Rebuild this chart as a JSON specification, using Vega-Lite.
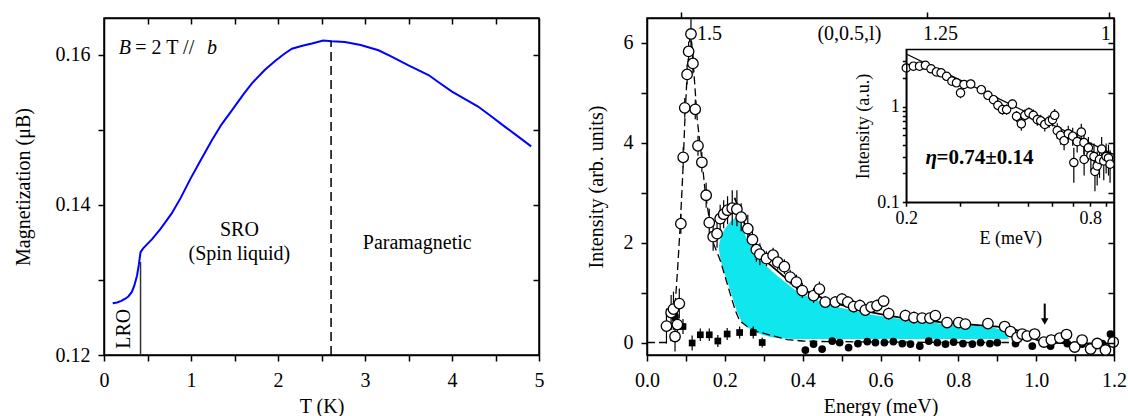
{
  "$schema": "https://vega.github.io/schema/vega-lite/v6.json",
  "background": "white",
  "padding": {"left": 12, "top": 10, "right": 4, "bottom": 0},
  "spacing": 40,
  "config": {
    "font": "Liberation Serif",
    "view": {"stroke": "black", "strokeWidth": 1.5},
    "axis": {"domainColor": "black", "tickColor": "black", "labelColor": "black", "titleColor": "black", "labelFontSize": 20, "titleFontSize": 20, "titleFontWeight": "normal", "tickSize": 6, "grid": false, "labelFont": "Liberation Serif", "titleFont": "Liberation Serif", "domainWidth": 1.5, "tickWidth": 1.5, "labelFlush": false, "labelOverlap": false},
    "text": {"font": "Liberation Serif", "fontSize": 20, "color": "black"}
  },
  "datasets": {
    "mag": [
      {"T": 0.10, "M": 0.1269}, {"T": 0.15, "M": 0.1270}, {"T": 0.20, "M": 0.1272}, {"T": 0.245, "M": 0.1275}, {"T": 0.28, "M": 0.1278}, {"T": 0.32, "M": 0.1284}, {"T": 0.35, "M": 0.1293}, {"T": 0.38, "M": 0.1306}, {"T": 0.40, "M": 0.1320}, {"T": 0.42, "M": 0.1337}, {"T": 0.45, "M": 0.1342}, {"T": 0.55, "M": 0.1354}, {"T": 0.65, "M": 0.1368}, {"T": 0.78, "M": 0.1389}, {"T": 0.88, "M": 0.1409}, {"T": 0.99, "M": 0.1434}, {"T": 1.1, "M": 0.1457}, {"T": 1.24, "M": 0.1486}, {"T": 1.35, "M": 0.1507}, {"T": 1.47, "M": 0.1526}, {"T": 1.6, "M": 0.1547}, {"T": 1.70, "M": 0.1562}, {"T": 1.85, "M": 0.1580}, {"T": 1.97, "M": 0.1592}, {"T": 2.07, "M": 0.1601}, {"T": 2.16, "M": 0.1608}, {"T": 2.28, "M": 0.1612}, {"T": 2.39, "M": 0.1615}, {"T": 2.52, "M": 0.1619}, {"T": 2.62, "M": 0.1618}, {"T": 2.77, "M": 0.1617}, {"T": 2.95, "M": 0.1613}, {"T": 3.155, "M": 0.1606}, {"T": 3.3, "M": 0.1598}, {"T": 3.5, "M": 0.1586}, {"T": 3.73, "M": 0.1573}, {"T": 3.85, "M": 0.1563}, {"T": 4.0, "M": 0.1551}, {"T": 4.15, "M": 0.1541}, {"T": 4.30, "M": 0.1531}, {"T": 4.45, "M": 0.1518}, {"T": 4.61, "M": 0.1504}, {"T": 4.75, "M": 0.1492}, {"T": 4.91, "M": 0.1478}
    ],
    "cyan": [
      {"E": 0.185, "lo": 1.85, "hi": 1.95}, {"E": 0.19, "lo": 1.62, "hi": 2.12}, {"E": 0.20, "lo": 1.36, "hi": 2.28}, {"E": 0.214, "lo": 1.04, "hi": 2.42}, {"E": 0.23, "lo": 0.64, "hi": 2.52}, {"E": 0.244, "lo": 0.40, "hi": 2.32}, {"E": 0.257, "lo": 0.31, "hi": 2.08}, {"E": 0.275, "lo": 0.22, "hi": 1.85}, {"E": 0.291, "lo": 0.17, "hi": 1.65}, {"E": 0.317, "lo": 0.11, "hi": 1.46}, {"E": 0.334, "lo": 0.09, "hi": 1.34}, {"E": 0.377, "lo": 0.07, "hi": 1.07}, {"E": 0.40, "lo": 0.07, "hi": 0.97}, {"E": 0.42, "lo": 0.07, "hi": 0.89}, {"E": 0.463, "lo": 0.07, "hi": 0.77}, {"E": 0.489, "lo": 0.07, "hi": 0.71}, {"E": 0.548, "lo": 0.07, "hi": 0.61}, {"E": 0.574, "lo": 0.07, "hi": 0.56}, {"E": 0.66, "lo": 0.07, "hi": 0.46}, {"E": 0.754, "lo": 0.07, "hi": 0.38}, {"E": 0.814, "lo": 0.07, "hi": 0.35}, {"E": 0.883, "lo": 0.07, "hi": 0.31}, {"E": 0.913, "lo": 0.07, "hi": 0.25}, {"E": 0.926, "lo": 0.07, "hi": 0.13}, {"E": 0.93, "lo": 0.07, "hi": 0.08}
    ],
    "dash": [
      {"E": 0.0, "I": 0}, {"E": 0.055, "I": 0}, {"E": 0.064, "I": 0.05}, {"E": 0.068, "I": 0.3}, {"E": 0.073, "I": 0.84}, {"E": 0.079, "I": 1.51}, {"E": 0.085, "I": 2.3}, {"E": 0.090, "I": 3.06}, {"E": 0.0926, "I": 3.5}, {"E": 0.097, "I": 4.4}, {"E": 0.102, "I": 5.2}, {"E": 0.107, "I": 5.8}, {"E": 0.111, "I": 6.15}, {"E": 0.115, "I": 6.0}, {"E": 0.120, "I": 5.47}, {"E": 0.129, "I": 4.47}, {"E": 0.141, "I": 3.66}, {"E": 0.150, "I": 2.99}, {"E": 0.163, "I": 2.32}, {"E": 0.171, "I": 1.98}, {"E": 0.188, "I": 1.65}, {"E": 0.201, "I": 1.31}, {"E": 0.214, "I": 0.97}, {"E": 0.227, "I": 0.64}, {"E": 0.238, "I": 0.44}, {"E": 0.257, "I": 0.32}, {"E": 0.283, "I": 0.22}, {"E": 0.326, "I": 0.13}, {"E": 0.36, "I": 0.06}, {"E": 0.40, "I": 0.03}, {"E": 0.45, "I": 0.02}, {"E": 0.6, "I": 0.01}, {"E": 0.8, "I": 0.0}, {"E": 0.93, "I": 0.0}
    ],
    "fit": [
      {"E": 0.225, "I": 2.9}, {"E": 0.24, "I": 2.6}, {"E": 0.257, "I": 2.25}, {"E": 0.275, "I": 2.0}, {"E": 0.291, "I": 1.78}, {"E": 0.31, "I": 1.6}, {"E": 0.334, "I": 1.44}, {"E": 0.355, "I": 1.3}, {"E": 0.377, "I": 1.18}, {"E": 0.40, "I": 1.06}, {"E": 0.428, "I": 0.97}, {"E": 0.46, "I": 0.86}, {"E": 0.49, "I": 0.77}, {"E": 0.548, "I": 0.67}, {"E": 0.574, "I": 0.61}, {"E": 0.62, "I": 0.54}, {"E": 0.66, "I": 0.49}, {"E": 0.72, "I": 0.44}, {"E": 0.754, "I": 0.41}, {"E": 0.8, "I": 0.38}, {"E": 0.85, "I": 0.35}, {"E": 0.9, "I": 0.32}, {"E": 0.943, "I": 0.27}, {"E": 0.965, "I": 0.2}, {"E": 0.986, "I": 0.10}, {"E": 1.01, "I": 0.03}, {"E": 1.03, "I": 0.0}, {"E": 1.1, "I": -0.02}, {"E": 1.2, "I": -0.02}
    ],
    "open": [
      {"E": 0.050, "I": 0.33, "lo": -0.02, "hi": 0.68}, {"E": 0.062, "I": 0.60, "lo": 0.25, "hi": 0.95}, {"E": 0.068, "I": 0.67, "lo": 0.32, "hi": 1.02}, {"E": 0.072, "I": 0.12, "lo": -0.18, "hi": 0.42}, {"E": 0.078, "I": 0.36, "lo": 0.06, "hi": 0.66}, {"E": 0.083, "I": 0.78, "lo": 0.48, "hi": 1.08},
      {"E": 0.087, "I": 2.38, "lo": 2.18, "hi": 2.58}, {"E": 0.093, "I": 3.71, "lo": 3.51, "hi": 3.91}, {"E": 0.097, "I": 4.70, "lo": 4.5, "hi": 4.9}, {"E": 0.103, "I": 5.37, "lo": 5.17, "hi": 5.57}, {"E": 0.107, "I": 5.83, "lo": 5.63, "hi": 6.03}, {"E": 0.113, "I": 6.18, "lo": 5.9, "hi": 6.7}, {"E": 0.118, "I": 5.59, "lo": 5.39, "hi": 5.79}, {"E": 0.124, "I": 4.67, "lo": 4.47, "hi": 4.87}, {"E": 0.131, "I": 3.94, "lo": 3.74, "hi": 4.14}, {"E": 0.141, "I": 3.61, "lo": 3.41, "hi": 3.81}, {"E": 0.152, "I": 2.95, "lo": 2.7, "hi": 3.2},
      {"E": 0.160, "I": 2.40, "lo": 2.12, "hi": 2.68}, {"E": 0.170, "I": 2.12, "lo": 1.84, "hi": 2.40}, {"E": 0.180, "I": 2.18, "lo": 1.90, "hi": 2.46}, {"E": 0.188, "I": 2.48, "lo": 2.20, "hi": 2.76}, {"E": 0.197, "I": 2.57, "lo": 2.29, "hi": 2.85}, {"E": 0.207, "I": 2.65, "lo": 2.37, "hi": 2.93}, {"E": 0.219, "I": 2.69, "lo": 2.35, "hi": 3.05}, {"E": 0.231, "I": 2.67, "lo": 2.33, "hi": 3.05}, {"E": 0.242, "I": 2.51, "lo": 2.23, "hi": 2.79}, {"E": 0.259, "I": 2.28, "lo": 2.0, "hi": 2.56}, {"E": 0.271, "I": 2.06, "lo": 1.80, "hi": 2.32}, {"E": 0.281, "I": 1.86, "lo": 1.62, "hi": 2.10}, {"E": 0.290, "I": 1.77, "lo": 1.55, "hi": 1.99},
      {"E": 0.307, "I": 1.68, "lo": 1.53, "hi": 1.83}, {"E": 0.324, "I": 1.75, "lo": 1.60, "hi": 1.90}, {"E": 0.336, "I": 1.61, "lo": 1.46, "hi": 1.76}, {"E": 0.353, "I": 1.52, "lo": 1.37, "hi": 1.67}, {"E": 0.368, "I": 1.31, "lo": 1.16, "hi": 1.46}, {"E": 0.384, "I": 1.21, "lo": 1.06, "hi": 1.36}, {"E": 0.399, "I": 1.04, "lo": 0.89, "hi": 1.19}, {"E": 0.428, "I": 0.94, "lo": 0.79, "hi": 1.09}, {"E": 0.443, "I": 1.07, "lo": 0.92, "hi": 1.22},
      {"E": 0.458, "I": 0.81, "lo": 0.69, "hi": 0.93}, {"E": 0.484, "I": 0.81, "lo": 0.69, "hi": 0.93}, {"E": 0.501, "I": 0.87, "lo": 0.75, "hi": 0.99}, {"E": 0.516, "I": 0.81, "lo": 0.69, "hi": 0.93}, {"E": 0.531, "I": 0.72, "lo": 0.60, "hi": 0.84}, {"E": 0.547, "I": 0.74, "lo": 0.62, "hi": 0.86}, {"E": 0.561, "I": 0.65, "lo": 0.53, "hi": 0.77}, {"E": 0.576, "I": 0.71, "lo": 0.59, "hi": 0.83}, {"E": 0.591, "I": 0.74, "lo": 0.62, "hi": 0.86}, {"E": 0.608, "I": 0.83, "lo": 0.71, "hi": 0.95}, {"E": 0.621, "I": 0.58, "lo": 0.46, "hi": 0.70}, {"E": 0.664, "I": 0.54, "lo": 0.42, "hi": 0.66}, {"E": 0.686, "I": 0.50, "lo": 0.38, "hi": 0.62},
      {"E": 0.707, "I": 0.49, "lo": 0.41, "hi": 0.57}, {"E": 0.727, "I": 0.49, "lo": 0.41, "hi": 0.57}, {"E": 0.741, "I": 0.54, "lo": 0.46, "hi": 0.62}, {"E": 0.771, "I": 0.40, "lo": 0.32, "hi": 0.48}, {"E": 0.801, "I": 0.40, "lo": 0.32, "hi": 0.48}, {"E": 0.818, "I": 0.37, "lo": 0.29, "hi": 0.45}, {"E": 0.876, "I": 0.38, "lo": 0.30, "hi": 0.46}, {"E": 0.919, "I": 0.32, "lo": 0.24, "hi": 0.40}, {"E": 0.934, "I": 0.22, "lo": 0.14, "hi": 0.30}, {"E": 0.951, "I": 0.10, "lo": 0.02, "hi": 0.18}, {"E": 0.964, "I": 0.17, "lo": 0.09, "hi": 0.25}, {"E": 0.977, "I": 0.13, "lo": 0.05, "hi": 0.21}, {"E": 0.996, "I": 0.17, "lo": 0.09, "hi": 0.25}, {"E": 1.020, "I": 0.01, "lo": -0.07, "hi": 0.09}, {"E": 1.039, "I": 0.05, "lo": -0.03, "hi": 0.13}, {"E": 1.061, "I": 0.09, "lo": 0.01, "hi": 0.17}, {"E": 1.078, "I": 0.16, "lo": 0.08, "hi": 0.24}, {"E": 1.099, "I": -0.09, "lo": -0.17, "hi": -0.01}, {"E": 1.118, "I": 0.05, "lo": -0.03, "hi": 0.13}, {"E": 1.140, "I": -0.13, "lo": -0.21, "hi": -0.05}, {"E": 1.157, "I": -0.02, "lo": -0.10, "hi": 0.06}, {"E": 1.178, "I": -0.15, "lo": -0.23, "hi": -0.07}, {"E": 1.198, "I": 0.01, "lo": -0.07, "hi": 0.09}
    ],
    "sq": [
      {"E": 0.073, "I": 0.50, "lo": 0.35, "hi": 0.65}, {"E": 0.0925, "I": 0.32, "lo": 0.17, "hi": 0.47}, {"E": 0.116, "I": -0.01, "lo": -0.16, "hi": 0.14}, {"E": 0.137, "I": 0.155, "lo": 0.03, "hi": 0.28}, {"E": 0.160, "I": 0.155, "lo": 0.03, "hi": 0.28}, {"E": 0.182, "I": 0.03, "lo": -0.09, "hi": 0.15}, {"E": 0.206, "I": 0.17, "lo": 0.05, "hi": 0.29}, {"E": 0.238, "I": 0.20, "lo": 0.08, "hi": 0.32}, {"E": 0.273, "I": 0.20, "lo": 0.08, "hi": 0.32}, {"E": 0.296, "I": 0.0, "lo": -0.1, "hi": 0.1}
    ],
    "fc": [
      {"E": 0.407, "I": -0.15}, {"E": 0.428, "I": -0.03}, {"E": 0.450, "I": -0.13}, {"E": 0.476, "I": 0.03}, {"E": 0.495, "I": 0.0}, {"E": 0.518, "I": -0.10}, {"E": 0.542, "I": -0.02}, {"E": 0.566, "I": 0.02}, {"E": 0.587, "I": 0.0}, {"E": 0.610, "I": 0.0}, {"E": 0.633, "I": 0.02}, {"E": 0.656, "I": -0.02}, {"E": 0.677, "I": -0.03}, {"E": 0.701, "I": -0.07}, {"E": 0.724, "I": 0.03}, {"E": 0.746, "I": 0.0}, {"E": 0.767, "I": -0.03}, {"E": 0.788, "I": 0.01}, {"E": 0.812, "I": -0.02}, {"E": 0.836, "I": -0.03}, {"E": 0.857, "I": 0.0}, {"E": 0.881, "I": -0.02}, {"E": 0.900, "I": 0.0}, {"E": 0.947, "I": -0.02}, {"E": 0.990, "I": -0.07}, {"E": 1.037, "I": -0.07}, {"E": 1.080, "I": -0.02}, {"E": 1.118, "I": -0.03}, {"E": 1.170, "I": -0.02}, {"E": 1.191, "I": 0.17}
    ],
    "inset": [
      {"E": 0.200, "I": 2.53, "lo": 2.35, "hi": 2.72}, {"E": 0.211, "I": 2.64, "lo": 2.45, "hi": 2.84}, {"E": 0.221, "I": 2.64, "lo": 2.45, "hi": 2.84}, {"E": 0.231, "I": 2.70, "lo": 2.50, "hi": 2.90}, {"E": 0.241, "I": 2.48, "lo": 2.30, "hi": 2.67}, {"E": 0.251, "I": 2.30, "lo": 2.13, "hi": 2.48}, {"E": 0.260, "I": 2.25, "lo": 2.08, "hi": 2.43}, {"E": 0.271, "I": 2.07, "lo": 1.90, "hi": 2.25}, {"E": 0.282, "I": 1.84, "lo": 1.68, "hi": 2.01}, {"E": 0.292, "I": 1.77, "lo": 1.61, "hi": 1.94}, {"E": 0.301, "I": 1.39, "lo": 1.22, "hi": 1.57}, {"E": 0.309, "I": 1.70, "lo": 1.54, "hi": 1.87}, {"E": 0.325, "I": 1.72, "lo": 1.55, "hi": 1.90}, {"E": 0.352, "I": 1.50, "lo": 1.35, "hi": 1.66}, {"E": 0.370, "I": 1.31, "lo": 1.17, "hi": 1.46}, {"E": 0.386, "I": 1.18, "lo": 1.05, "hi": 1.32}, {"E": 0.399, "I": 1.03, "lo": 0.91, "hi": 1.16}, {"E": 0.413, "I": 0.93, "lo": 0.82, "hi": 1.05}, {"E": 0.426, "I": 0.93, "lo": 0.82, "hi": 1.05}, {"E": 0.445, "I": 1.06, "lo": 0.94, "hi": 1.19}, {"E": 0.459, "I": 0.79, "lo": 0.69, "hi": 0.90}, {"E": 0.476, "I": 0.66, "lo": 0.56, "hi": 0.77}, {"E": 0.489, "I": 0.81, "lo": 0.70, "hi": 0.93}, {"E": 0.504, "I": 0.86, "lo": 0.75, "hi": 0.98}, {"E": 0.521, "I": 0.81, "lo": 0.70, "hi": 0.93}, {"E": 0.537, "I": 0.73, "lo": 0.63, "hi": 0.84}, {"E": 0.551, "I": 0.71, "lo": 0.61, "hi": 0.82}, {"E": 0.568, "I": 0.65, "lo": 0.55, "hi": 0.76}, {"E": 0.587, "I": 0.70, "lo": 0.60, "hi": 0.81}, {"E": 0.602, "I": 0.73, "lo": 0.62, "hi": 0.85}, {"E": 0.612, "I": 0.81, "lo": 0.69, "hi": 0.94}, {"E": 0.624, "I": 0.56, "lo": 0.46, "hi": 0.67}, {"E": 0.640, "I": 0.50, "lo": 0.40, "hi": 0.61}, {"E": 0.657, "I": 0.44, "lo": 0.35, "hi": 0.54}, {"E": 0.678, "I": 0.52, "lo": 0.42, "hi": 0.63}, {"E": 0.701, "I": 0.49, "lo": 0.39, "hi": 0.60}, {"E": 0.707, "I": 0.26, "lo": 0.16, "hi": 0.37}, {"E": 0.725, "I": 0.43, "lo": 0.33, "hi": 0.54}, {"E": 0.748, "I": 0.54, "lo": 0.43, "hi": 0.66}, {"E": 0.763, "I": 0.42, "lo": 0.32, "hi": 0.53}, {"E": 0.764, "I": 0.28, "lo": 0.19, "hi": 0.38}, {"E": 0.789, "I": 0.37, "lo": 0.27, "hi": 0.48}, {"E": 0.804, "I": 0.31, "lo": 0.21, "hi": 0.42}, {"E": 0.823, "I": 0.30, "lo": 0.20, "hi": 0.41}, {"E": 0.829, "I": 0.21, "lo": 0.13, "hi": 0.30}, {"E": 0.843, "I": 0.24, "lo": 0.15, "hi": 0.34}, {"E": 0.858, "I": 0.28, "lo": 0.18, "hi": 0.39}, {"E": 0.872, "I": 0.36, "lo": 0.25, "hi": 0.48}, {"E": 0.886, "I": 0.27, "lo": 0.17, "hi": 0.38}, {"E": 0.902, "I": 0.30, "lo": 0.20, "hi": 0.41}, {"E": 0.918, "I": 0.29, "lo": 0.19, "hi": 0.40}, {"E": 0.929, "I": 0.25, "lo": 0.16, "hi": 0.35}
    ],
    "insetfit": [{"E": 0.2, "I": 3.54, "E2": 0.957, "I2": 0.315}]
  },
  "hconcat": [
    {
      "width": 435,
      "height": 337,
      "resolve": {"axis": {"x": "independent", "y": "independent"}},
      "layer": [
        {
          "data": {"name": "mag"},
          "mark": {"type": "line", "color": "#0000ff", "strokeWidth": 2},
          "encoding": {
            "x": {"field": "T", "type": "quantitative", "scale": {"domain": [0, 5], "nice": false, "zero": false},
              "axis": {"title": "T (K)", "values": [0, 0.5, 1, 1.5, 2, 2.5, 3, 3.5, 4, 4.5, 5], "labelExpr": "datum.value % 1 == 0 ? format(datum.value, 'd') : ''", "labelPadding": 9, "titlePadding": 6}},
            "y": {"field": "M", "type": "quantitative", "scale": {"domain": [0.12, 0.1649], "nice": false, "zero": false},
              "axis": {"title": "Magnetization (μB)", "values": [0.12, 0.13, 0.14, 0.15, 0.16], "labelExpr": "(format(datum.value, '.2f') == '0.12' || format(datum.value, '.2f') == '0.14' || format(datum.value, '.2f') == '0.16') ? format(datum.value, '.2f') : ''", "labelPadding": 8, "titlePadding": 22}}
          }
        },
        {
          "data": {"values": [{"T": 0.42, "a": 0.12, "b": 0.1324}]},
          "mark": {"type": "rule", "color": "#333333", "strokeWidth": 1.5},
          "encoding": {
            "x": {"field": "T", "type": "quantitative", "scale": {"domain": [0, 5], "nice": false, "zero": false},
              "axis": {"orient": "top", "labels": false, "title": null, "tickSize": -6, "values": [0.5, 1, 1.5, 2, 2.5, 3, 3.5, 4, 4.5], "zindex": 1}},
            "y": {"field": "a", "type": "quantitative", "scale": {"domain": [0.12, 0.1649], "nice": false, "zero": false},
              "axis": {"orient": "right", "labels": false, "title": null, "tickSize": -6, "values": [0.13, 0.14, 0.15, 0.16], "zindex": 1}},
            "y2": {"field": "b"}
          }
        },
        {
          "data": {"values": [{"T": 2.61, "a": 0.12, "b": 0.1618}]},
          "mark": {"type": "rule", "color": "black", "strokeWidth": 1.5, "strokeDash": [9, 5]},
          "encoding": {
            "x": {"field": "T", "type": "quantitative", "scale": {"domain": [0, 5], "nice": false, "zero": false}, "axis": null},
            "y": {"field": "a", "type": "quantitative", "scale": {"domain": [0.12, 0.1649], "nice": false, "zero": false}, "axis": null},
            "y2": {"field": "b"}
          }
        },
        {
          "data": {"values": [{"T": 1.556, "M": 0.1366, "label": "SRO"}, {"T": 1.556, "M": 0.13342, "label": "(Spin liquid)"}, {"T": 3.6, "M": 0.13497, "label": "Paramagnetic"}]},
          "mark": {"type": "text", "align": "center", "baseline": "middle", "fontSize": 20},
          "encoding": {
            "x": {"field": "T", "type": "quantitative", "scale": {"domain": [0, 5], "nice": false, "zero": false}, "axis": null},
            "y": {"field": "M", "type": "quantitative", "scale": {"domain": [0.12, 0.1649], "nice": false, "zero": false}, "axis": null},
            "text": {"field": "label"}
          }
        },
        {
          "data": {"values": [{"T": 0.169, "M": 0.1609, "label": "B"}, {"T": 1.183, "M": 0.1609, "label": "b"}]},
          "mark": {"type": "text", "align": "left", "baseline": "middle", "fontSize": 20, "fontStyle": "italic"},
          "encoding": {
            "x": {"field": "T", "type": "quantitative", "scale": {"domain": [0, 5], "nice": false, "zero": false}, "axis": null},
            "y": {"field": "M", "type": "quantitative", "scale": {"domain": [0.12, 0.1649], "nice": false, "zero": false}, "axis": null},
            "text": {"field": "label"}
          }
        },
        {
          "data": {"values": [{"T": 0.36, "M": 0.1609, "label": "= 2 T //"}]},
          "mark": {"type": "text", "align": "left", "baseline": "middle", "fontSize": 20},
          "encoding": {
            "x": {"field": "T", "type": "quantitative", "scale": {"domain": [0, 5], "nice": false, "zero": false}, "axis": null},
            "y": {"field": "M", "type": "quantitative", "scale": {"domain": [0.12, 0.1649], "nice": false, "zero": false}, "axis": null},
            "text": {"field": "label"}
          }
        },
        {
          "data": {"values": [{"T": 0.227, "M": 0.1235, "label": "LRO"}]},
          "mark": {"type": "text", "align": "center", "baseline": "middle", "fontSize": 20, "angle": 270},
          "encoding": {
            "x": {"field": "T", "type": "quantitative", "scale": {"domain": [0, 5], "nice": false, "zero": false}, "axis": null},
            "y": {"field": "M", "type": "quantitative", "scale": {"domain": [0.12, 0.1649], "nice": false, "zero": false}, "axis": null},
            "text": {"field": "label"}
          }
        }
      ]
    },
    {
      "width": 467,
      "height": 337,
      "resolve": {"scale": {"x": "independent", "y": "independent"}},
      "layer": [
        {
          "data": {"name": "cyan"},
          "mark": {"type": "area", "color": "#10e6ee", "opacity": 1},
          "encoding": {
            "x": {"field": "E", "type": "quantitative", "scale": {"domain": [0, 1.2], "nice": false, "zero": false},
              "axis": {"orient": "bottom", "title": "Energy (meV)", "values": [0, 0.1, 0.2, 0.3, 0.4, 0.5, 0.6, 0.7, 0.8, 0.9, 1.0, 1.1, 1.2], "labelExpr": "round(datum.value * 10) % 2 == 0 ? format(datum.value, '.1f') : ''", "labelPadding": 9, "titlePadding": 6}},
            "y": {"field": "hi", "type": "quantitative", "scale": {"domain": [-0.25, 6.5], "nice": false, "zero": false},
              "axis": {"orient": "left", "title": "Intensity (arb. units)", "values": [0, 1, 2, 3, 4, 5, 6], "labelExpr": "datum.value % 2 == 0 ? format(datum.value, 'd') : ''", "labelPadding": 8, "titlePadding": 17}},
            "y2": {"field": "lo"}
          }
        },
        {
          "data": {"name": "dash"},
          "mark": {"type": "line", "color": "black", "strokeWidth": 1.3, "strokeDash": [8, 4], "clip": true},
          "encoding": {
            "x": {"field": "E", "type": "quantitative", "scale": {"domain": [0, 1.2], "nice": false, "zero": false}, "axis": null},
            "y": {"field": "I", "type": "quantitative", "scale": {"domain": [-0.25, 6.5], "nice": false, "zero": false}, "axis": null}
          }
        },
        {
          "data": {"name": "fit"},
          "mark": {"type": "line", "color": "black", "strokeWidth": 1.8, "clip": true},
          "encoding": {
            "x": {"field": "E", "type": "quantitative", "scale": {"domain": [0, 1.2], "nice": false, "zero": false}, "axis": null},
            "y": {"field": "I", "type": "quantitative", "scale": {"domain": [-0.25, 6.5], "nice": false, "zero": false}, "axis": null}
          }
        },
        {
          "data": {"name": "open"},
          "mark": {"type": "rule", "color": "black", "strokeWidth": 1.2, "clip": true},
          "encoding": {
            "x": {"field": "E", "type": "quantitative", "scale": {"domain": [0, 1.2], "nice": false, "zero": false}, "axis": null},
            "y": {"field": "lo", "type": "quantitative", "scale": {"domain": [-0.25, 6.5], "nice": false, "zero": false}, "axis": null},
            "y2": {"field": "hi"}
          }
        },
        {
          "data": {"name": "sq"},
          "mark": {"type": "rule", "color": "black", "strokeWidth": 1.2, "clip": true},
          "encoding": {
            "x": {"field": "E", "type": "quantitative", "scale": {"domain": [0, 1.2], "nice": false, "zero": false}, "axis": null},
            "y": {"field": "lo", "type": "quantitative", "scale": {"domain": [-0.25, 6.5], "nice": false, "zero": false}, "axis": null},
            "y2": {"field": "hi"}
          }
        },
        {
          "data": {"name": "sq"},
          "mark": {"type": "point", "shape": "square", "filled": true, "color": "black", "size": 45, "opacity": 1},
          "encoding": {
            "x": {"field": "E", "type": "quantitative", "scale": {"domain": [0, 1.2], "nice": false, "zero": false}, "axis": null},
            "y": {"field": "I", "type": "quantitative", "scale": {"domain": [-0.25, 6.5], "nice": false, "zero": false}, "axis": null}
          }
        },
        {
          "data": {"name": "fc"},
          "mark": {"type": "point", "shape": "circle", "filled": true, "color": "black", "size": 60, "opacity": 1},
          "encoding": {
            "x": {"field": "E", "type": "quantitative", "scale": {"domain": [0, 1.2], "nice": false, "zero": false},
              "axis": {"orient": "top", "labels": false, "title": null, "tickSize": 6, "values": [0.087, 0.72, 1.186], "zindex": 1}},
            "y": {"field": "I", "type": "quantitative", "scale": {"domain": [-0.25, 6.5], "nice": false, "zero": false},
              "axis": {"orient": "right", "labels": false, "title": null, "tickSize": -6, "values": [0, 1, 2, 3, 4, 5, 6], "zindex": 1}}
          }
        },
        {
          "data": {"name": "open"},
          "mark": {"type": "point", "shape": "circle", "filled": true, "fill": "white", "stroke": "black", "strokeWidth": 1.3, "size": 110, "opacity": 1},
          "encoding": {
            "x": {"field": "E", "type": "quantitative", "scale": {"domain": [0, 1.2], "nice": false, "zero": false}, "axis": null},
            "y": {"field": "I", "type": "quantitative", "scale": {"domain": [-0.25, 6.5], "nice": false, "zero": false}, "axis": null}
          }
        },
        {
          "data": {"values": [{"E": 1.022, "a": 0.78, "b": 0.45}]},
          "mark": {"type": "rule", "color": "black", "strokeWidth": 2},
          "encoding": {
            "x": {"field": "E", "type": "quantitative", "scale": {"domain": [0, 1.2], "nice": false, "zero": false}, "axis": null},
            "y": {"field": "a", "type": "quantitative", "scale": {"domain": [-0.25, 6.5], "nice": false, "zero": false}, "axis": null},
            "y2": {"field": "b"}
          }
        },
        {
          "data": {"values": [{"E": 1.022, "I": 0.42}]},
          "mark": {"type": "point", "shape": "triangle-down", "filled": true, "color": "black", "size": 55, "opacity": 1},
          "encoding": {
            "x": {"field": "E", "type": "quantitative", "scale": {"domain": [0, 1.2], "nice": false, "zero": false}, "axis": null},
            "y": {"field": "I", "type": "quantitative", "scale": {"domain": [-0.25, 6.5], "nice": false, "zero": false}, "axis": null}
          }
        },
        {
          "data": {"values": [{"E": 0.1286, "I": 6.18, "label": "1.5"}]},
          "mark": {"type": "text", "align": "left", "baseline": "middle", "fontSize": 20},
          "encoding": {
            "x": {"field": "E", "type": "quantitative", "scale": {"domain": [0, 1.2], "nice": false, "zero": false}, "axis": null},
            "y": {"field": "I", "type": "quantitative", "scale": {"domain": [-0.25, 6.5], "nice": false, "zero": false}, "axis": null},
            "text": {"field": "label"}
          }
        },
        {
          "data": {"values": [{"E": 0.52, "I": 6.18, "label": "(0,0.5,l)"}, {"E": 0.754, "I": 6.18, "label": "1.25"}, {"E": 1.179, "I": 6.18, "label": "1"}]},
          "mark": {"type": "text", "align": "center", "baseline": "middle", "fontSize": 20},
          "encoding": {
            "x": {"field": "E", "type": "quantitative", "scale": {"domain": [0, 1.2], "nice": false, "zero": false}, "axis": null},
            "y": {"field": "I", "type": "quantitative", "scale": {"domain": [-0.25, 6.5], "nice": false, "zero": false}, "axis": null},
            "text": {"field": "label"}
          }
        },
        {
          "data": {"values": [{"x1": 0.2, "x2": 0.957, "y1": 0.1, "y2": 3.94}]},
          "mark": {"type": "rect", "fill": "white", "stroke": "black", "strokeWidth": 1.5},
          "encoding": {
            "x": {"field": "x1", "type": "quantitative", "scale": {"type": "log", "domain": [0.2, 0.957], "range": [259.3, 467], "nice": false}, "axis": null},
            "x2": {"field": "x2"},
            "y": {"field": "y1", "type": "quantitative", "scale": {"type": "log", "domain": [0.1, 3.94], "range": [184.25, 31.55], "nice": false}, "axis": null},
            "y2": {"field": "y2"}
          }
        },
        {
          "data": {"name": "insetfit"},
          "mark": {"type": "rule", "color": "black", "strokeWidth": 1.3},
          "encoding": {
            "x": {"field": "E", "type": "quantitative", "scale": {"type": "log", "domain": [0.2, 0.957], "range": [259.3, 467], "nice": false}, "axis": null},
            "x2": {"field": "E2"},
            "y": {"field": "I", "type": "quantitative", "scale": {"type": "log", "domain": [0.1, 3.94], "range": [184.25, 31.55], "nice": false}, "axis": null},
            "y2": {"field": "I2"}
          }
        },
        {
          "data": {"name": "inset"},
          "mark": {"type": "rule", "color": "black", "strokeWidth": 1.2},
          "encoding": {
            "x": {"field": "E", "type": "quantitative", "scale": {"type": "log", "domain": [0.2, 0.957], "range": [259.3, 467], "nice": false}, "axis": null},
            "y": {"field": "lo", "type": "quantitative", "scale": {"type": "log", "domain": [0.1, 3.94], "range": [184.25, 31.55], "nice": false}, "axis": null},
            "y2": {"field": "hi"}
          }
        },
        {
          "data": {"name": "inset"},
          "mark": {"type": "point", "shape": "circle", "filled": true, "fill": "white", "stroke": "black", "strokeWidth": 1.2, "size": 70, "opacity": 1},
          "encoding": {
            "x": {"field": "E", "type": "quantitative", "scale": {"type": "log", "domain": [0.2, 0.957], "range": [259.3, 467], "nice": false},
              "axis": {"orient": "bottom", "offset": -152.75, "title": "E (meV)", "values": [0.2, 0.3, 0.4, 0.5, 0.6, 0.7, 0.8, 0.9], "labelExpr": "datum.value == 0.2 ? '0.2' : (datum.value == 0.8 ? '0.8' : '')", "labelFontSize": 18, "titleFontSize": 18, "tickSize": 4, "labelPadding": 3, "titlePadding": 2, "zindex": 1}},
            "y": {"field": "I", "type": "quantitative", "scale": {"type": "log", "domain": [0.1, 3.94], "range": [184.25, 31.55], "nice": false},
              "axis": {"orient": "left", "offset": -259.3, "title": "Intensity (a.u.)", "values": [0.1, 0.2, 0.3, 0.4, 0.5, 0.6, 0.7, 0.8, 0.9, 1, 2, 3], "labelExpr": "datum.value == 0.1 ? '0.1' : (datum.value == 1 ? '1' : '')", "labelFontSize": 18, "titleFontSize": 18, "tickSize": 4, "labelPadding": 3, "titlePadding": 4, "zindex": 1}}
          }
        },
        {
          "data": {"values": [{"E": 0.231, "I": 0.29, "label": "η"}]},
          "mark": {"type": "text", "align": "left", "baseline": "middle", "fontSize": 21, "fontWeight": "bold", "fontStyle": "italic"},
          "encoding": {
            "x": {"field": "E", "type": "quantitative", "scale": {"type": "log", "domain": [0.2, 0.957], "range": [259.3, 467], "nice": false}, "axis": null},
            "y": {"field": "I", "type": "quantitative", "scale": {"type": "log", "domain": [0.1, 3.94], "range": [184.25, 31.55], "nice": false}, "axis": null},
            "text": {"field": "label"}
          }
        },
        {
          "data": {"values": [{"E": 0.251, "I": 0.29, "label": "=0.74±0.14"}]},
          "mark": {"type": "text", "align": "left", "baseline": "middle", "fontSize": 21, "fontWeight": "bold"},
          "encoding": {
            "x": {"field": "E", "type": "quantitative", "scale": {"type": "log", "domain": [0.2, 0.957], "range": [259.3, 467], "nice": false}, "axis": null},
            "y": {"field": "I", "type": "quantitative", "scale": {"type": "log", "domain": [0.1, 3.94], "range": [184.25, 31.55], "nice": false}, "axis": null},
            "text": {"field": "label"}
          }
        }
      ]
    }
  ]
}
